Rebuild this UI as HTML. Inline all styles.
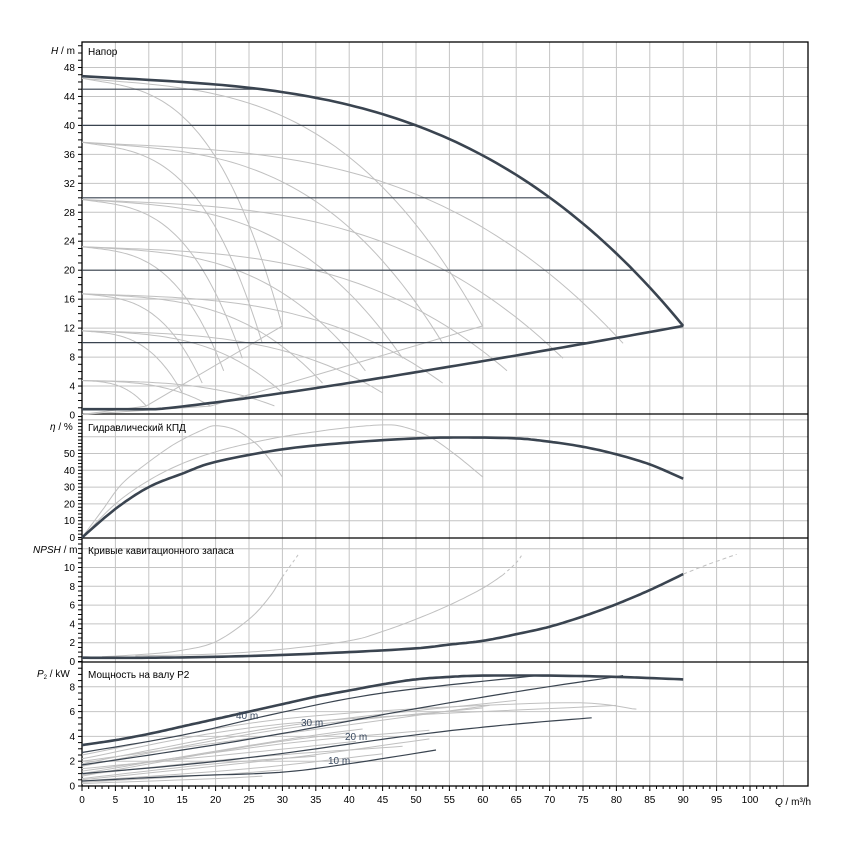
<!DOCTYPE html>
<html><head><meta charset="utf-8">
<style>
html,body{margin:0;padding:0;background:#fff;}
svg{display:block;font-family:"Liberation Sans",Arial,sans-serif;}
</style></head>
<body>
<svg id="s" width="850" height="850" viewBox="0 0 850 850" xmlns="http://www.w3.org/2000/svg">
<rect width="850" height="850" fill="#fff"/>
<g id="grid"></g>
<g id="gray" fill="none" stroke="#c0c0c0" stroke-width="1"></g>
<g id="dark" fill="none" stroke="#3a4450"></g>
<g id="txt" font-size="10" fill="#000"></g>
<text x="88" y="55" font-size="10">Напор</text>
<text x="88" y="431" font-size="10">Гидравлический КПД</text>
<text x="88" y="554" font-size="10">Кривые кавитационного запаса</text>
<text x="88" y="678" font-size="10">Мощность на валу P2</text>
<text x="51" y="54" font-size="10"><tspan font-style="italic">H</tspan> / m</text>
<text x="50" y="430" font-size="10"><tspan font-style="italic">η</tspan> / %</text>
<text x="33" y="553" font-size="10"><tspan font-style="italic">NPSH</tspan> / m</text>
<text x="37" y="677" font-size="10"><tspan font-style="italic">P</tspan><tspan font-size="6" dy="2">2</tspan><tspan dy="-2"> / kW</tspan></text>
<text x="775" y="805" font-size="10"><tspan font-style="italic">Q</tspan> / m³/h</text>
<g font-size="10" fill="#3a4a60">
<text x="236" y="719">40 m</text>
<text x="301" y="726">30 m</text>
<text x="345" y="740">20 m</text>
<text x="328" y="764">10 m</text>
</g>
</svg>
<script>
var NS="http://www.w3.org/2000/svg";
function el(p,t,a){var e=document.createElementNS(NS,t);for(var k in a)e.setAttribute(k,a[k]);p.appendChild(e);return e;}
var G=document.getElementById('grid'),GR=document.getElementById('gray'),D=document.getElementById('dark'),T=document.getElementById('txt');
var L=82,R=808,TOP=42,B=786;
function X(q){return L+q*6.68;}
function YH(h){return 415-h*7.24;}
function YE(e){return 537.5-e*1.68;}
function YN(v){return 661.5-v*9.4;}
function YP(p){return 786-p*12.4;}
for(var q=5;q<=105;q+=5){el(G,'line',{x1:X(q),x2:X(q),y1:TOP,y2:B,stroke:'#c4c4c4','stroke-width':1});}
for(var q=0;q<=104;q++){el(G,'line',{x1:X(q),x2:X(q),y1:B,y2:B+(q%5==0?5:3),stroke:'#000','stroke-width':1});}
for(var q=0;q<=100;q+=5){el(T,'text',{x:X(q),y:B+17,'text-anchor':'middle'}).textContent=q;}
function hgrid(vals,fy,minors,labels,top,bot){
 vals.forEach(function(v){var y=fy(v);if(y>top+1&&y<bot-1)el(G,'line',{x1:L,x2:R,y1:y,y2:y,stroke:'#c4c4c4','stroke-width':1});});
 minors.forEach(function(v){var y=fy(v);if(y>=top&&y<=bot)el(G,'line',{x1:L-4,x2:L,y1:y,y2:y,stroke:'#000','stroke-width':1});});
 labels.forEach(function(v){el(T,'text',{x:L-7,y:fy(v)+3.5,'text-anchor':'end'}).textContent=v;});
}
var a=[],m=[],l=[];
for(var h=4;h<=52;h+=4)a.push(h);for(h=0;h<=51;h++)m.push(h);for(h=0;h<=48;h+=4)l.push(h);
hgrid(a,YH,m,l,TOP,414);
a=[];m=[];l=[];for(h=10;h<=70;h+=10)a.push(h);for(h=0;h<=72;h+=2)m.push(h);for(h=0;h<=50;h+=10)l.push(h);
hgrid(a,YE,m,l,414,538);
a=[];m=[];l=[];for(h=2;h<=12;h+=2)a.push(h);for(h=0;h<=13;h+=0.5)m.push(h);for(h=0;h<=10;h+=2)l.push(h);
hgrid(a,YN,m,l,538,662);
a=[];m=[];l=[];for(h=2;h<=8;h+=2)a.push(h);for(h=0;h<=10;h+=0.5)m.push(h);for(h=0;h<=8;h+=2)l.push(h);
hgrid(a,YP,m,l,662,786);
[414,538,662].forEach(function(y){el(G,'line',{x1:L,x2:R,y1:y,y2:y,stroke:'#000','stroke-width':1.3});});
el(G,'rect',{x:L,y:TOP,width:R-L,height:B-TOP,fill:'none',stroke:'#000','stroke-width':1.3});
function path(par,pts,attrs){var d='';pts.forEach(function(p,i){d+=(i?'L':'M')+p[0].toFixed(1)+' '+p[1].toFixed(1);});attrs=attrs||{};attrs.d=d;return el(par,'path',attrs);}
function spline(pts){
 var out=[];for(var i=0;i<pts.length-1;i++){var p0=pts[i-1]||pts[i],p1=pts[i],p2=pts[i+1],p3=pts[i+2]||pts[i+1];
 for(var t=0;t<1;t+=0.1){var t2=t*t,t3=t2*t;
 var f=function(k){return 0.5*((2*p1[k])+(-p0[k]+p2[k])*t+(2*p0[k]-5*p1[k]+4*p2[k]-p3[k])*t2+(-p0[k]+3*p1[k]-3*p2[k]+p3[k])*t3);};
 out.push([f(0),f(1)]);}}
 out.push(pts[pts.length-1]);return out;}
function Hmax(q){return 46.8-0.0555*q+0.00093*q*q-5.08e-5*q*q*q;}
function Hmin(q){return q<11?0.8:0.8+11.5*Math.pow((q-11)/79,1.15);}
[1,0.6667,0.3333].forEach(function(s){
 [1,0.9,0.8,0.707,0.6,0.5,0.32].forEach(function(n){
  if(s==1&&n==1)return;
  var pts=[],qe=90*s*n;
  for(var i=0;i<=60;i++){var q=qe*i/60;var h=n*n*Hmax(q/(s*n))*(46.5/46.8);pts.push([X(q),YH(h)]);}
  path(GR,pts);
 });
 if(s<1){path(GR,[[X(0),YH(0.8*0.1)],[X(90*s*0.32),YH(0.1*12.3)],[X(90*s),YH(12.3)]]);}
});
[45,40,30,20,10].forEach(function(h){var q=0;while(q<100&&Hmax(q)>h&&Hmin(q)<h)q+=0.1;
 el(D,'line',{x1:L,x2:X(q),y1:YH(h),y2:YH(h),'stroke-width':1.2});});
var pts=[];for(var q=0;q<=90;q+=1)pts.push([X(q),YH(Hmax(q))]);path(D,pts,{'stroke-width':2.6});
pts=[];for(q=0;q<=90;q+=1)pts.push([X(q),YH(Hmin(q))]);path(D,pts,{'stroke-width':2.6});
function draw(par,data,fy,w,dash){var s=spline(data).map(function(p){return [X(p[0]),fy(p[1])];});var at={'stroke-width':w};if(dash)at['stroke-dasharray']=dash;return path(par,s,at);}
draw(GR,[[0,0],[3,16],[6,32],[10,45],[14,56],[18,64],[20,66.5],[23,64],[26,56],[28,47],[30,36]],YE,1);
draw(GR,[[0,0],[5,20],[10,34],[15,44],[20,51],[25,56],[30,60],[35,63],[40,65.5],[45,67],[48,66],[52,60],[56,49],[60,36]],YE,1);
draw(D,[[0,0],[5,17],[10,30],[15,38],[20,45],[30,52.5],[40,56.5],[50,59],[57,59.5],[65,59],[70,57],[75,54],[80,49.5],[85,43.5],[90,35]],YE,2.6);
draw(GR,[[3,0.5],[10,0.8],[15,1.2],[20,2.1],[25,4.5],[28,6.8],[30,9]],YN,1);
draw(GR,[[30,9],[31.5,10.5],[32.5,11.5]],YN,1,'3,3');
draw(GR,[[8,0.6],[20,0.8],[30,1.3],[40,2.2],[45,3.2],[50,4.5],[55,6],[60,7.8],[63,9.2]],YN,1);
draw(GR,[[63,9.2],[65,10.5],[66,11.5]],YN,1,'3,3');
draw(GR,[[0,0.3],[10,0.4]],YN,1);
draw(D,[[0,0.4],[10,0.4],[20,0.5],[30,0.7],[40,1],[50,1.4],[55,1.8],[60,2.2],[65,2.9],[70,3.7],[75,4.8],[80,6.1],[85,7.6],[90,9.3]],YN,2.6);
draw(GR,[[90,9.3],[94,10.4],[98,11.4]],YN,1,'4,3');
var gp=[[[0,1.0],[30,3.7],[42,4.6]],[[0,0.8],[25,3.2],[40,4.3]],[[0,1.6],[30,4.6],[60,6.3]],[[0,1.2],[30,3.4],[52,4.5]],[[0,2.2],[30,5],[80,6.5]],[[0,2.0],[30,4.2],[61,6.5]],[[0,0.6],[20,1.8],[35,2.4]],[[0,0.4],[25,1.4],[45,2.6]],[[0,0.3],[20,0.9],[30,1.3]],[[0,0.5],[30,2.2],[52,3.8]],[[0,1.4],[25,2.7],[41,3.6]],[[0,0.9],[25,2.3],[48,3.2]],[[0,0.2],[20,0.6],[27,0.8]],[[0,1.8],[30,4.8],[65,6.9]],[[0,2.5],[30,5.4],[70,6.7],[83,6.2]]];
gp.forEach(function(d){draw(GR,d,YP,1);});
draw(D,[[0,2.7],[15,4.1],[29.6,5.9],[45,7.5],[68,8.9]],YP,1.2);
draw(D,[[0,1.7],[15,2.9],[29.6,4.2],[49.6,6.2],[65,7.6],[81,8.9]],YP,1.2);
draw(D,[[0,1.0],[15,1.7],[29.6,2.6],[49.6,4.1],[63,4.9],[76.3,5.5]],YP,1.2);
draw(D,[[0,0.4],[15,0.8],[29.6,1.1],[40,1.8],[53,2.9]],YP,1.2);
draw(D,[[0,3.3],[5,3.7],[10,4.2],[15,4.8],[20,5.4],[25,6.0],[30,6.6],[35,7.2],[40,7.7],[45,8.2],[50,8.6],[55,8.8],[60,8.9],[70,8.9],[80,8.8],[90,8.6]],YP,2.6);
</script>
</body></html>
